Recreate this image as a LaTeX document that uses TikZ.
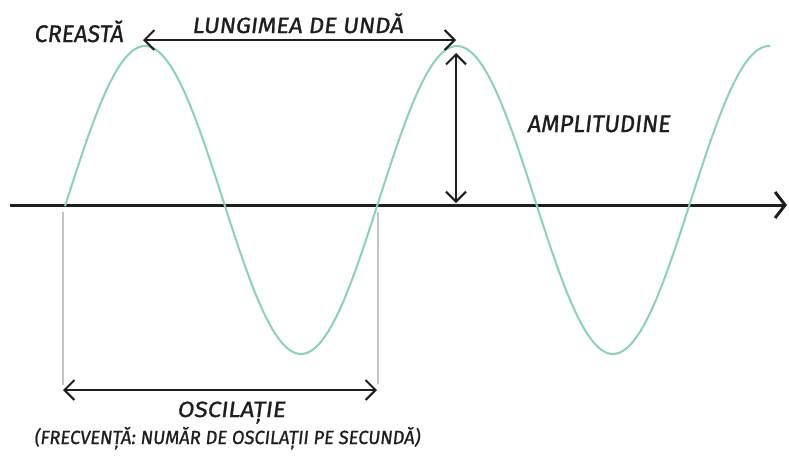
\documentclass[tikz,border=0pt]{standalone}
\usepackage{fontspec}
\setmainfont{Fira Sans}[FakeSlant=0.12, FakeBold=1]
\usetikzlibrary{arrows.meta}
\definecolor{wave}{HTML}{86D3B9}
\definecolor{ink}{HTML}{1E1E1E}
\definecolor{guide}{HTML}{C4C4C4}
\newcommand\fitw[2]{\resizebox{#1}{\height}{#2}}
\tikzset{
  lbl/.style={anchor=base, inner sep=0pt, text=ink},
  dimarrow/.style={draw=ink, line width=2pt, {Straight Barb[length=10pt,width=20pt]}-{Straight Barb[length=10pt,width=20pt]}},
  axisline/.style={draw=ink, line width=3pt, -{Straight Barb[length=10pt,width=26pt]}},
  guideline/.style={draw=guide, line width=2pt},
  wavestyle/.style={draw=wave, line width=2pt}
}
\begin{document}
\begin{tikzpicture}[x=1pt,y=-1pt]
\useasboundingbox (0,0) rectangle (789,456);
% axis
\coordinate (axL) at (10,205);
\coordinate (axR) at (787,205);
\draw[axisline] (axL) -- (axR);
% wave
\draw[wavestyle] plot[domain=65:770, samples=240, smooth] (\x, {200-154*sin(((\x-67)/312)*360)});
% guide lines
\coordinate (g1t) at (63,212);
\coordinate (g1b) at (63,385);
\coordinate (g2t) at (378,212);
\coordinate (g2b) at (378,384);
\draw[guideline] (g1t) -- (g1b);
\draw[guideline] (g2t) -- (g2b);
% dimension arrows
\coordinate (wlL) at (143,40);
\coordinate (wlR) at (456,40);
\draw[dimarrow] (wlL) -- (wlR);
\coordinate (amT) at (456,53);
\coordinate (amB) at (456,203);
\draw[dimarrow] (amT) -- (amB);
\coordinate (osL) at (63,390);
\coordinate (osR) at (377,390);
\draw[dimarrow] (osL) -- (osR);
% labels
\node[lbl, font=\fontsize{24}{28}\selectfont] (creasta) at (78.5,42) {\fitw{89pt}{CREASTĂ}};
\node[lbl, font=\fontsize{22}{26}\selectfont] (lungime) at (297.5,33) {\fitw{211pt}{LUNGIMEA DE UNDĂ}};
\node[lbl, font=\fontsize{24}{28}\selectfont] (ampl) at (598.5,132) {\fitw{143pt}{AMPLITUDINE}};
\node[lbl, font=\fontsize{22}{26}\selectfont] (osc) at (231,417) {\fitw{108pt}{OSCILAȚIE}};
\node[lbl, font=\fontsize{19}{23}\selectfont] (frecv) at (227,444) {\fitw{386pt}{(FRECVENȚĂ: NUMĂR DE OSCILAȚII PE SECUNDĂ)}};
\end{tikzpicture}
\end{document}
